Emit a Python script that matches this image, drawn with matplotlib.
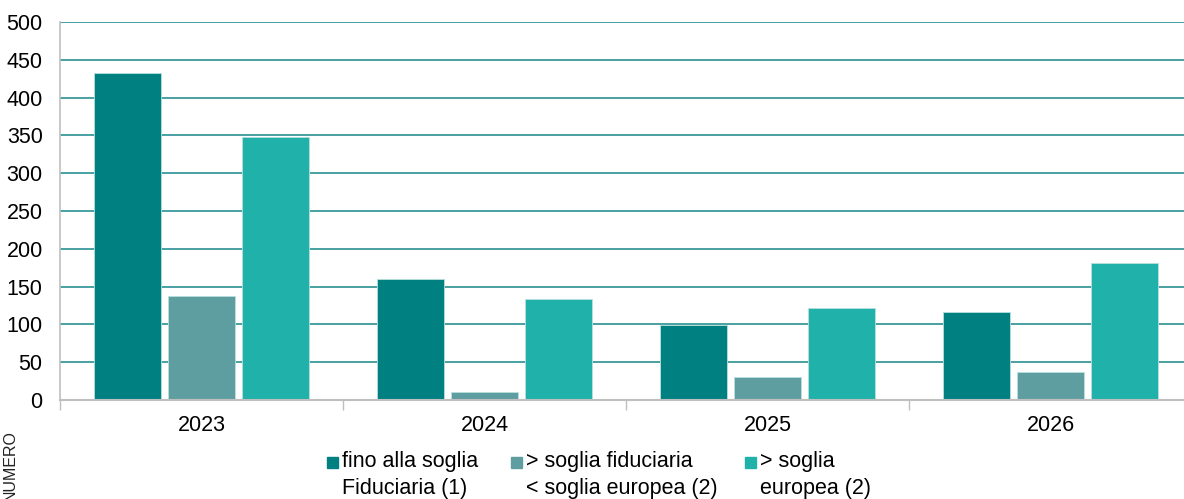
import numpy as np
import matplotlib
matplotlib.use('Agg')
import matplotlib.pyplot as plt
from matplotlib.patches import Rectangle

plt.rcParams['font.family'] = ['Liberation Sans', 'DejaVu Sans']

# dati
anni = ['2023', '2024', '2025', '2026']
fino_soglia_fiduciaria = [433, 160, 99, 116]
tra_soglie = [137, 10, 31, 37]
sopra_soglia_europea = [348, 134, 122, 181]

serie = [fino_soglia_fiduciaria, tra_soglie, sopra_soglia_europea]
etichette = ['fino alla soglia\nFiduciaria (1)',
             '> soglia fiduciaria\n< soglia europea (2)',
             '> soglia\neuropea (2)']
colori = ['#008080', '#5F9EA0', '#20B2AA']

W, H = 1184, 499
fig = plt.figure(figsize=(W / 100, H / 100), dpi=100)
ax = fig.add_axes([60 / W, 1 - 400 / H, 1132 / W, 378 / H])

x = np.arange(len(anni))
larg = 0.237
passo = 0.2615
for i, (vals, col) in enumerate(zip(serie, colori)):
    ax.bar(x + (i - 1) * passo, vals, width=larg, color=col,
           edgecolor='#b8e0dd', linewidth=0.6, zorder=3)

ax.set_xlim(-0.5, len(anni) - 0.5)
ax.set_ylim(0, 500)
ax.set_yticks(np.arange(0, 501, 50))
ax.grid(axis='y', color='#3a9a9a', linewidth=1.3, zorder=0)
ax.set_axisbelow(True)

ax.set_xticks(x)
ax.set_xticklabels(anni)
ax.set_xticks(np.arange(-0.5, len(anni)), minor=True)
ax.tick_params(axis='x', which='major', length=0, pad=11, labelsize=15.5)
ax.tick_params(axis='x', which='minor', length=7, color='#bfbfbf', width=1)
ax.tick_params(axis='y', length=0, pad=12.5, labelsize=15.5)

for s in ['top', 'right']:
    ax.spines[s].set_visible(False)
ax.spines['left'].set_color('#bfbfbf')
ax.spines['bottom'].set_color('#bfbfbf')
ax.spines['left'].set_linewidth(1.2)
ax.spines['bottom'].set_linewidth(1.5)
ax.spines['bottom'].set_zorder(4)

# legenda disegnata a mano
pos_quadrati = [327, 511, 745]
for px, col, lab in zip(pos_quadrati, colori, etichette):
    fig.patches.append(Rectangle((px / W, 1 - 468 / H), 11 / W, 11 / H,
                                 transform=fig.transFigure, color=col))
    fig.text((px + 15) / W, 1 - 451 / H, lab, fontsize=15.5, va='top',
             ha='left', linespacing=1.35)

fig.text(10 / W, 1 - 430 / H, 'NUMERO', rotation=90, fontsize=11.5,
         va='top', ha='center', color='#222222')

fig.savefig('out.png', dpi=100)
